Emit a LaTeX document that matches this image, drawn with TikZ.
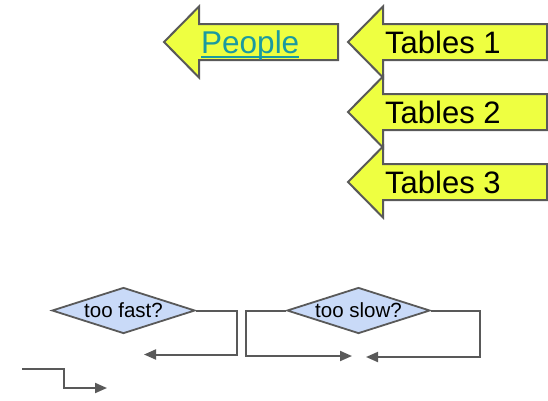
\documentclass[tikz,border=0pt]{standalone}
\usepackage{fontspec}
\setmainfont{Liberation Sans}
\usepackage{tikz}
\usetikzlibrary{arrows.meta,shapes.geometric}

\definecolor{arrowyellow}{HTML}{EEFF41}
\definecolor{edgegray}{HTML}{595959}
\definecolor{diamondblue}{HTML}{C9DAF8}
\definecolor{linkteal}{HTML}{1A9AA0}

\tikzset{
  bigarrow/.style={fill=arrowyellow, draw=edgegray, line width=2pt, line join=miter},
  bigtext/.style={inner sep=0pt, anchor=base west, font=\fontsize{31}{37}\selectfont},
  decision/.style={diamond, aspect=3.1, fill=diamondblue, draw=edgegray, line width=1.8pt,
    minimum width=143pt, minimum height=46pt, inner sep=0pt, font=\fontsize{20.5}{24}\selectfont},
  elbow/.style={draw=edgegray, line width=2pt, -{Triangle[length=12pt,width=10pt]}}
}

% left-pointing block arrow: tip at (#1,#2), tail end at #3
\newcommand{\leftblock}[3]{%
  \draw[bigarrow] (#1,#2) -- (#1+35,#2-35.5) -- (#1+35,#2-18) -- (#3,#2-18)
    -- (#3,#2+18) -- (#1+35,#2+18) -- (#1+35,#2+35.5) -- cycle;}

\begin{document}
\begin{tikzpicture}[x=1pt, y=-1pt]
  \useasboundingbox (0,0) rectangle (548,400);

  % --- People ---
  \leftblock{164}{42}{338}
  \node[bigtext, text=linkteal, font=\fontsize{31.5}{37}\selectfont] (people) at (201,53) {People};
  \draw[linkteal, line width=2pt] ([yshift=-3.5pt]people.base west) -- ([yshift=-3.5pt]people.base east);

  % --- Tables, stacked 70 apart ---
  \foreach \k in {1,2,3}{
    \pgfmathsetmacro{\ty}{42+70*(\k-1)}
    \leftblock{348}{\ty}{547}
    \node[bigtext] (tab\k) at (385,\ty+11) {Tables \k};
  }

  % --- Decisions ---
  \node[decision] (fast) at (123.5,310.5) {too fast?};
  \node[decision] (slow) at (358.5,310.5) {too slow?};

  % free ends of the elbow connectors
  \coordinate (fastend) at (144,354.5);
  \coordinate (slowend) at (352,356);
  \coordinate (backend) at (366,357);
  \coordinate (stepstart) at (22,369);
  \coordinate (stepend) at (107,388);

  \draw[elbow] (fast.east) -- (237,310.5) -- (237,354.5) -- (fastend);
  \draw[elbow] (slow.west) -- (246,310.5) -- (246,356) -- (slowend);
  \draw[elbow] (slow.east) -- (480,310.5) -- (480,357) -- (backend);
  \draw[elbow] (stepstart) -- (64,369) -- (64,388) -- (stepend);
\end{tikzpicture}
\end{document}
